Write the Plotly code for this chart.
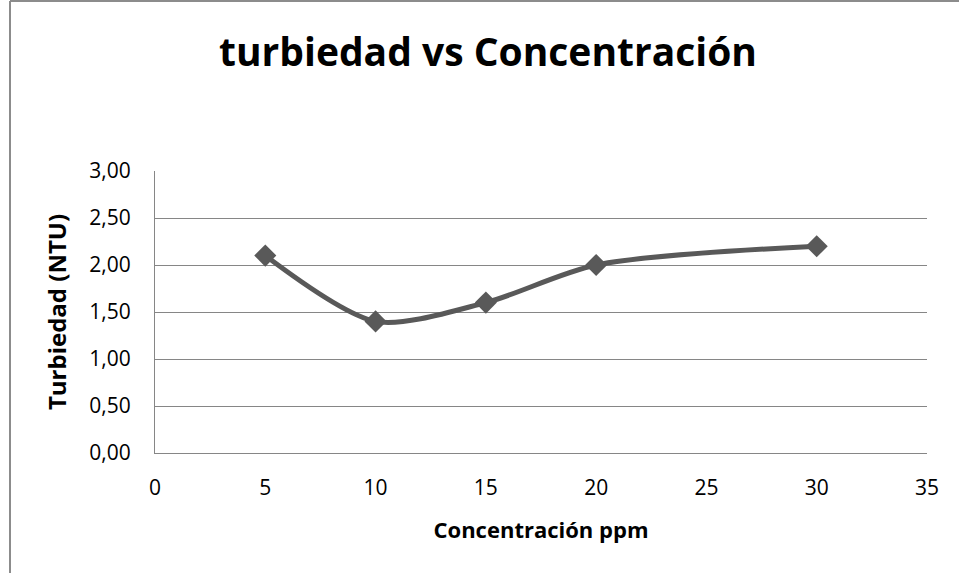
import plotly.graph_objects as go

concentracion = [5, 10, 15, 20, 30]
turbiedad = [2.10, 1.40, 1.60, 2.00, 2.20]
y_ticks = [0, 0.5, 1.0, 1.5, 2.0, 2.5, 3.0]
x_ticks = [0, 5, 10, 15, 20, 25, 30, 35]

W, H = 959, 573
L, R, T, B = 155, 32, 171, 120
pw, ph = W - L - R, H - T - B

def px_x(p):
    return (p - L) / pw

def px_y(p):
    return (H - B - p) / ph

fig = go.Figure()
fig.add_trace(go.Scatter(
    x=concentracion, y=turbiedad, mode="lines+markers",
    line=dict(color="#595959", width=5, shape="spline", smoothing=0.8),
    marker=dict(symbol="diamond", size=17, color="#595959"),
    showlegend=False,
))

font = "Open Sans, Liberation Sans, sans-serif"
fig.update_layout(
    width=W, height=H,
    margin=dict(l=L, r=R, t=T, b=B),
    paper_bgcolor="white", plot_bgcolor="white",
    separators=",.",
    font=dict(family=font, color="#000000", size=21),
    title=dict(text="<b>turbiedad vs Concentración</b>", x=488 / W, xref="container",
               xanchor="center", y=1 - 52 / H, yanchor="middle",
               font=dict(size=39, family=font, color="#000000")),
    xaxis=dict(range=[0, 35], tickvals=x_ticks, showgrid=False, zeroline=False,
               showline=True, linecolor="#868686", linewidth=1,
               ticks="", tickfont=dict(size=21), ticklabelstandoff=16,
               title=dict(text="<b>Concentración ppm</b>", font=dict(size=22), standoff=22)),
    yaxis=dict(range=[0, 3], tickvals=y_ticks, tickformat=".2f", showgrid=True,
               gridcolor="#868686", gridwidth=1, zeroline=False,
               showline=True, linecolor="#868686", linewidth=1,
               ticks="", tickfont=dict(size=21), ticklabelstandoff=19,
               title=dict(text="<b>Turbiedad (NTU)</b>", font=dict(size=24), standoff=15)),
    shapes=[
        dict(type="line", xref="paper", yref="paper", x0=px_x(10), x1=2, y0=px_y(1), y1=px_y(1),
             line=dict(color="#8c8c8c", width=2)),
        dict(type="line", xref="paper", yref="paper", x0=px_x(10), x1=px_x(10), y0=px_y(1), y1=-2,
             line=dict(color="#8c8c8c", width=2)),
    ],
)

fig.write_html("out.html", config={"displayModeBar": False},
               post_script="document.body.style.margin='0';document.body.style.overflow='hidden';")
